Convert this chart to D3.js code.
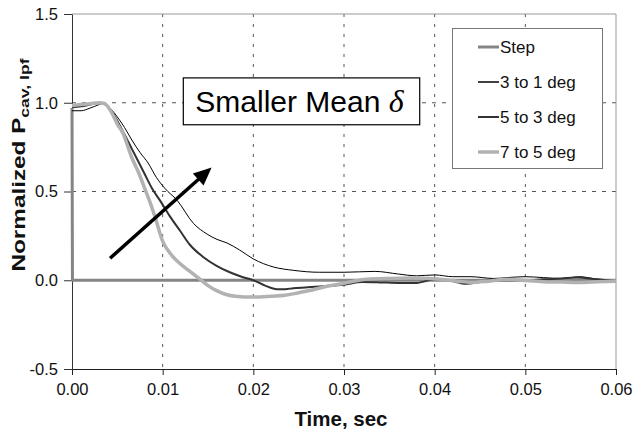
<!DOCTYPE html>
<html><head><meta charset="utf-8">
<script src="https://cdn.jsdelivr.net/npm/d3@7"></script>
<style>
body{margin:0;background:#fff;}
text{font-family:"Liberation Sans",Arial,sans-serif;}
</style></head><body>
<svg id="c" width="635" height="432"></svg>
<script>
// ---- data ----
const seriesNames = ["Step", "3 to 1 deg", "5 to 3 deg", "7 to 5 deg"];
const xTicks = [0, 0.01, 0.02, 0.03, 0.04, 0.05, 0.06];
const xTickLabels = ["0.00", "0.01", "0.02", "0.03", "0.04", "0.05", "0.06"];
const yTicks = [-0.5, 0, 0.5, 1.0, 1.5];
const yTickLabels = ["-0.5", "0.0", "0.5", "1.0", "1.5"];

const stepT = [0, 0.00005, 0.06];
const stepV = [0.97, 0, 0];

const s31T = [0,.001,.002,.003,.0035,.004,.005,.0058,.0066,.0075,.0084,.0093,.0102,.0116,.0134,.0149,.016,.0171,.0185,.02,.0222,.0244,.0273,.03,.0334,.036,.038,.04,.042,.044,.0465,.048,.05,.052,.054,.056,.058,.06];
const s31V = [.955,.955,.97,.99,1.0,.98,.92,.86,.79,.72,.66,.58,.52,.45,.32,.26,.23,.21,.17,.12,.075,.056,.045,.045,.05,.035,.025,.03,.02,.02,.01,.015,.02,.015,.01,.02,.005,-.005];

const s53T = [0,.001,.002,.003,.0037,.0045,.0055,.0066,.008,.0088,.0097,.0108,.0119,.013,.0145,.016,.0174,.0187,.02,.0213,.0226,.0235,.0244,.026,.0273,.03,.032,.034,.036,.038,.04,.0415,.0435,.045,.047,.05,.052,.054,.0556,.058,.06];
const s53V = [.975,.98,.99,1.0,.99,.94,.85,.74,.6,.52,.45,.36,.28,.2,.13,.08,.045,.02,0,-.03,-.05,-.05,-.045,-.04,-.035,-.025,-.01,-.012,-.015,-.015,.005,0,-.02,-.01,0,0,.005,.01,.015,.005,-.005];

const s75T = [0,.001,.002,.003,.0036,.0042,.005,.0056,.0066,.0074,.008,.0086,.0092,.01,.011,.012,.013,.014,.015,.016,.017,.018,.02,.022,.0235,.025,.0265,.028,.03,.0325,.035,.0375,.04,.0425,.044,.046,.048,.05,.052,.054,.056,.058,.06];
const s75V = [.985,.99,.995,1.0,.995,.96,.88,.83,.69,.6,.52,.44,.35,.22,.14,.09,.05,.01,-.03,-.06,-.08,-.09,-.095,-.09,-.085,-.07,-.055,-.035,-.017,.005,.01,.012,.008,-.005,-.012,-.005,.005,-.002,-.008,-.01,-.012,-.008,-.005];

const annText = "Smaller Mean ";
const annDelta = "\u03B4";
const arrowFrom = [0.0042, 0.124];
const arrowTo = [0.0154, 0.635];
const annPos = [0.0136, 1.0];

// ---- chart ----
const svg = d3.select("#c");
const x = d3.scaleLinear().domain([0, 0.06]).range([72, 616]);
const y = d3.scaleLinear().domain([-0.5, 1.5]).range([369, 14]);

// grid
svg.append("g").selectAll("line").data(xTicks.filter(t => t > 0 && t < 0.06)).join("line")
  .attr("x1", d => x(d)).attr("x2", d => x(d)).attr("y1", y(1.5)).attr("y2", y(-0.5))
  .attr("stroke", "#555").attr("stroke-width", 1).attr("stroke-dasharray", "3,7");
svg.append("g").selectAll("line").data([0.5, 1.0]).join("line")
  .attr("x1", x(0)).attr("x2", x(0.06)).attr("y1", d => y(d)).attr("y2", d => y(d))
  .attr("stroke", "#555").attr("stroke-width", 1).attr("stroke-dasharray", "4,6");

// frame top/right
svg.append("line").attr("x1", x(0)).attr("x2", x(0.06)).attr("y1", y(1.5)).attr("y2", y(1.5)).attr("stroke", "#999");
svg.append("line").attr("x1", x(0.06)).attr("x2", x(0.06)).attr("y1", y(1.5)).attr("y2", y(-0.5)).attr("stroke", "#999");

// axes
const xAxis = d3.axisBottom(x).tickValues(xTicks).tickFormat((d, i) => xTickLabels[i]).tickSize(6).tickSizeOuter(0);
const gx = svg.append("g").attr("transform", `translate(0,${y(-0.5)})`).call(xAxis);
gx.select(".domain").attr("stroke", "#222");
gx.selectAll(".tick line").attr("stroke", "#222");
gx.selectAll("text").attr("font-size", "16.5px").attr("fill", "#111").attr("dy", "1.05em").style("font-family", '"Liberation Sans",Arial,sans-serif');

const yAxis = d3.axisLeft(y).tickValues(yTicks).tickFormat((d, i) => yTickLabels[i]).tickSize(8).tickSizeOuter(0).tickPadding(6);
const gy = svg.append("g").attr("transform", `translate(${x(0)},0)`).call(yAxis);
gy.select(".domain").attr("stroke", "#333");
gy.selectAll(".tick line").attr("stroke", "#333");
gy.selectAll("text").attr("font-size", "16.5px").attr("fill", "#111").style("font-family", '"Liberation Sans",Arial,sans-serif');

// series
const styles = [
  {stroke: "#858585", w: 3, lw: 3, curve: d3.curveLinear},
  {stroke: "#000", w: 1, lw: 1.5, curve: d3.curveMonotoneX},
  {stroke: "#333", w: 2, lw: 2, curve: d3.curveMonotoneX},
  {stroke: "#b2b2b2", w: 3.5, lw: 3.5, curve: d3.curveMonotoneX}
];
const data = [
  stepT.map((t, i) => [t, stepV[i]]),
  s31T.map((t, i) => [t, s31V[i]]),
  s53T.map((t, i) => [t, s53V[i]]),
  s75T.map((t, i) => [t, s75V[i]])
];
data.forEach((d, i) => {
  svg.append("path").datum(d)
    .attr("fill", "none").attr("stroke", styles[i].stroke).attr("stroke-width", styles[i].w)
    .attr("stroke-linejoin", "round")
    .attr("d", d3.line().x(p => x(p[0])).y(p => y(p[1])).curve(styles[i].curve));
});

// legend
const lg = svg.append("g");
lg.append("rect").attr("x", 452.5).attr("y", 28.5).attr("width", 150).attr("height", 140)
  .attr("fill", "#fff").attr("stroke", "#777");
seriesNames.forEach((n, i) => {
  const cy = 47 + i * 35;
  lg.append("line").attr("x1", 478).attr("x2", 499).attr("y1", cy).attr("y2", cy)
    .attr("stroke", styles[i].stroke).attr("stroke-width", styles[i].lw);
  lg.append("text").attr("x", 500).attr("y", cy).attr("dy", "0.36em").attr("font-size", "17px").attr("fill", "#111").text(n);
});

// annotation
const ann = svg.append("g");
const at = ann.append("text").attr("x", x(annPos[0])).attr("y", y(annPos[1]) + 9)
  .attr("font-size", "30px").attr("fill", "#000");
at.append("tspan").text(annText);
at.append("tspan").attr("font-family", '"Liberation Serif","Times New Roman",serif').attr("font-style", "italic").attr("font-size", "32px").text(annDelta);
const bb = at.node().getBBox();
ann.insert("rect", "text").attr("x", bb.x - 12).attr("y", y(1.14))
  .attr("width", bb.width + 27).attr("height", y(0.876) - y(1.14))
  .attr("fill", "#fff").attr("stroke", "#000").attr("stroke-width", 1.2);

// arrow
const ax1 = x(arrowFrom[0]), ay1 = y(arrowFrom[1]), ax2 = x(arrowTo[0]), ay2 = y(arrowTo[1]);
const ang = Math.atan2(ay2 - ay1, ax2 - ax1);
const hl = 18, hw = 8;
const bx = ax2 - hl * Math.cos(ang), by = ay2 - hl * Math.sin(ang);
svg.append("line").attr("x1", ax1).attr("y1", ay1).attr("x2", bx + 2 * Math.cos(ang)).attr("y2", by + 2 * Math.sin(ang))
  .attr("stroke", "#000").attr("stroke-width", 3.5);
svg.append("path").attr("fill", "#000")
  .attr("d", `M${ax2},${ay2}L${bx - hw * Math.sin(ang)},${by + hw * Math.cos(ang)}L${bx + hw * Math.sin(ang)},${by - hw * Math.cos(ang)}Z`);

// titles
svg.append("text").attr("x", 341).attr("y", 426).attr("text-anchor", "middle")
  .attr("font-size", "20.5px").attr("font-weight", "bold").attr("fill", "#111").text("Time, sec");
const yt = svg.append("text").attr("text-anchor", "middle").attr("font-weight", "bold").attr("fill", "#111")
  .attr("transform", "translate(25,165) rotate(-90) scale(1.35,1)").attr("font-size", "18px");
yt.append("tspan").text("Normalized P");
yt.append("tspan").attr("font-size", "13px").attr("dy", "4").text("cav, lpf");
</script>
</body></html>
